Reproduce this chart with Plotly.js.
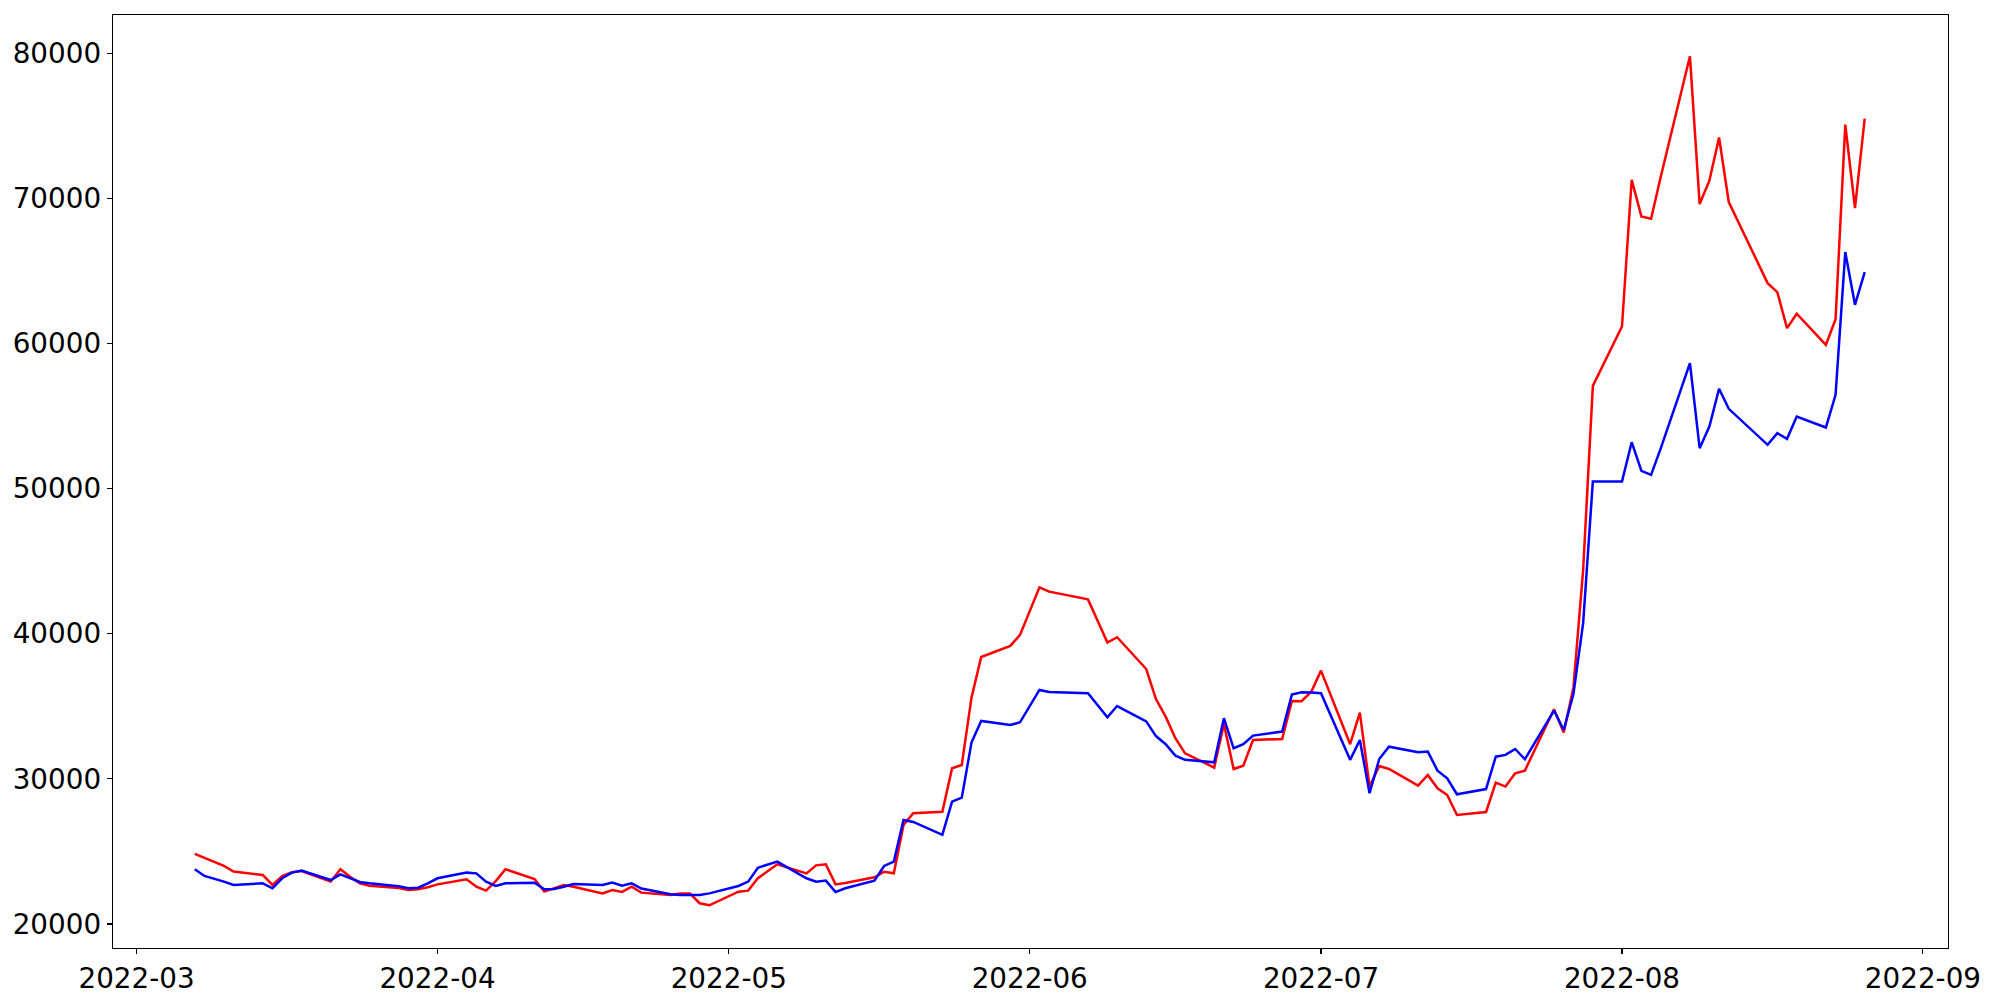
<!DOCTYPE html>
<html>
<head>
<meta charset="utf-8">
<script src="https://cdn.plot.ly/plotly-3.0.1.min.js"></script>
<style>
  html, body { margin: 0; padding: 0; background: #ffffff; }
  #chart { width: 2000px; height: 1000px; }
</style>
</head>
<body>
<div id="chart"></div>
<script>
// Trading days (Mar 7 – Aug 26, 2022)
const dates = [
  "2022-03-07","2022-03-08","2022-03-10","2022-03-11","2022-03-14","2022-03-15","2022-03-16","2022-03-17","2022-03-18",
  "2022-03-21","2022-03-22","2022-03-23","2022-03-24","2022-03-25","2022-03-28","2022-03-29","2022-03-30","2022-03-31",
  "2022-04-01","2022-04-04","2022-04-05","2022-04-06","2022-04-07","2022-04-08","2022-04-11","2022-04-12","2022-04-13",
  "2022-04-14","2022-04-15","2022-04-18","2022-04-19","2022-04-20","2022-04-21","2022-04-22","2022-04-25","2022-04-26",
  "2022-04-27","2022-04-28","2022-04-29",
  "2022-05-02","2022-05-03","2022-05-04","2022-05-06","2022-05-09","2022-05-10","2022-05-11","2022-05-12","2022-05-13",
  "2022-05-16","2022-05-17","2022-05-18","2022-05-19","2022-05-20","2022-05-23","2022-05-24","2022-05-25","2022-05-26",
  "2022-05-27","2022-05-30","2022-05-31",
  "2022-06-02","2022-06-03","2022-06-07","2022-06-08","2022-06-09","2022-06-10","2022-06-13","2022-06-14","2022-06-15",
  "2022-06-16","2022-06-17","2022-06-20","2022-06-21","2022-06-22","2022-06-23","2022-06-24","2022-06-27","2022-06-28",
  "2022-06-29","2022-06-30",
  "2022-07-01","2022-07-04","2022-07-05","2022-07-06","2022-07-07","2022-07-08","2022-07-11","2022-07-12","2022-07-13",
  "2022-07-14","2022-07-15","2022-07-18","2022-07-19","2022-07-20","2022-07-21","2022-07-22","2022-07-25","2022-07-26",
  "2022-07-27","2022-07-28","2022-07-29",
  "2022-08-01","2022-08-02","2022-08-03","2022-08-04","2022-08-05","2022-08-08","2022-08-09","2022-08-10","2022-08-11",
  "2022-08-12","2022-08-16","2022-08-17","2022-08-18","2022-08-19","2022-08-22","2022-08-23","2022-08-24","2022-08-25",
  "2022-08-26"
];

const redSeries = [
  24830,24550,24000,23610,23380,22690,23310,23560,23650,
  22920,23770,23260,22800,22640,22480,22340,22390,22530,
  22730,23080,22570,22300,22960,23770,23100,22230,22460,
  22690,22570,22110,22340,22210,22570,22160,22000,22110,
  22110,21430,21290,
  22230,22300,23150,24110,23490,24040,24110,22730,22830,
  23220,23600,23490,26820,27630,27740,30730,30960,35600,
  38400,39160,39920,
  43200,42900,42370,40880,39390,39760,37570,35500,34290,
  32800,31760,30780,33790,30680,30910,32680,32750,35370,
  35350,36010,
  37460,32390,34570,29470,30890,30680,29540,30270,29350,
  28890,27510,27720,29740,29470,30390,30570,34800,33190,
  36300,44400,57080,
  61170,71280,68760,68600,71510,79790,69610,71220,74200,
  69750,64160,63540,61060,62050,59910,61680,75080,69330,
  75490
];

const blueSeries = [
  23770,23310,22920,22690,22800,22460,23150,23540,23680,
  23030,23420,23150,22900,22800,22600,22460,22500,22800,
  23150,23540,23490,22920,22620,22800,22850,22390,22410,
  22570,22760,22690,22850,22640,22800,22440,22050,22000,
  22000,22000,22110,
  22620,22920,23880,24300,23150,22920,22990,22200,22460,
  22990,24000,24300,27170,27030,26140,28430,28710,32500,
  33990,33710,33900,
  36130,35990,35900,35070,34240,35020,33960,32950,32390,
  31600,31310,31140,34180,32110,32390,32980,33260,35810,
  35970,35950,
  35900,31310,32680,29010,31370,32220,31830,31880,30570,
  30040,28940,29300,31530,31650,32060,31350,34710,33370,
  35850,40730,50490,
  50490,53200,51230,50950,52790,58650,52790,54280,56880,
  55500,53020,53820,53430,54970,54210,56460,66300,62670,
  64920
];

const yTickValues = [20000, 30000, 40000, 50000, 60000, 70000, 80000];

const traces = [
  { x: dates, y: redSeries, type: "scatter", mode: "lines",
    line: { color: "#ff0000", width: 2.5 }, name: "red", showlegend: false },
  { x: dates, y: blueSeries, type: "scatter", mode: "lines",
    line: { color: "#0000ff", width: 2.5 }, name: "blue", showlegend: false }
];

const font = { family: "DejaVu Sans, sans-serif", size: 27.8, color: "#000000" };

const layout = {
  width: 2000, height: 1000,
  margin: { l: 113.3, r: 51.7, t: 15, b: 52, pad: 0 },
  paper_bgcolor: "#ffffff", plot_bgcolor: "#ffffff",
  font: font,
  showlegend: false,
  xaxis: {
    type: "date",
    range: ["2022-02-26 13:51", "2022-09-03 13:55"],
    tick0: "2022-03-01", dtick: "M1", tickformat: "%Y-%m",
    ticks: "outside", ticklen: 5, tickwidth: 1.1, tickcolor: "#000000",
    showline: true, linecolor: "#000000", linewidth: 1.3, mirror: true,
    showgrid: false, zeroline: false,
    tickfont: font, ticklabelstandoff: 0
  },
  yaxis: {
    range: [18346, 82638],
    tickvals: yTickValues, ticktext: yTickValues.map(String),
    ticks: "outside", ticklen: 5, tickwidth: 1.1, tickcolor: "#000000",
    showline: true, linecolor: "#000000", linewidth: 1.3, mirror: true,
    showgrid: false, zeroline: false,
    tickfont: font, ticklabelstandoff: 0
  }
};

Plotly.newPlot("chart", traces, layout, { displayModeBar: false, staticPlot: true });
</script>
</body>
</html>
